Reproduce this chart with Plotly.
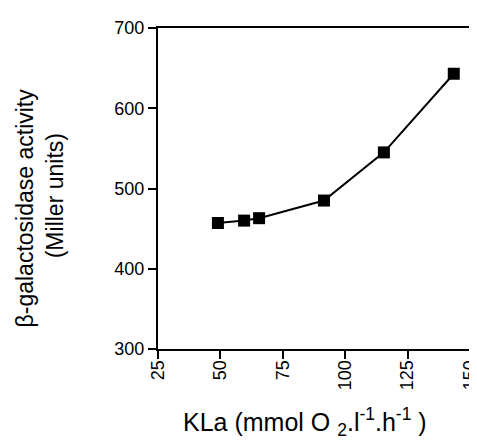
import plotly.graph_objects as go

kla = [49, 59.5, 65.5, 91.5, 115.5, 143.5]
activity = [457, 460, 463, 485, 545, 643]
x_ticks = [25, 50, 75, 100, 125, 150]
y_ticks = [300, 400, 500, 600, 700]

FONT = "Liberation Sans, Arial, Helvetica, sans-serif"

fig = go.Figure()
fig.add_trace(go.Scatter(
    x=kla, y=activity, mode="lines+markers",
    line=dict(color="black", width=2),
    marker=dict(symbol="square", size=12, color="black"),
    showlegend=False, cliponaxis=False,
))

axis_common = dict(
    showgrid=False, zeroline=False, showline=True, linecolor="black", linewidth=2,
    mirror=True, ticks="outside", ticklen=8, tickwidth=2, tickcolor="black",
    tickfont=dict(family=FONT, size=18, color="black"),
)
fig.update_xaxes(range=[25, 150], tickvals=x_ticks, ticktext=[str(v) for v in x_ticks],
                 tickangle=-90, ticklabeloverflow="allow", ticklabelstandoff=-6, **axis_common)
fig.update_yaxes(range=[300, 700], tickvals=y_ticks, ticktext=[str(v) for v in y_ticks],
                 **axis_common)

fig.add_annotation(text="β-galactosidase activity", textangle=-90, xref="paper", yref="paper",
                   x=-0.425, y=0.439, xanchor="center", yanchor="middle", showarrow=False,
                   font=dict(family=FONT, size=23, color="black"))
fig.add_annotation(text="(Miller units)", textangle=-90, xref="paper", yref="paper",
                   x=-0.332, y=0.477, xanchor="center", yanchor="middle", showarrow=False,
                   font=dict(family=FONT, size=23, color="black"))
fig.add_annotation(text="KLa (mmol O <sub>2</sub>.l<sup>-1</sup>.h<sup>-1</sup> )",
                   xref="paper", yref="paper", x=0.472, y=-0.227,
                   xanchor="center", yanchor="middle", showarrow=False,
                   font=dict(family=FONT, size=25, color="black"))

fig.update_layout(
    width=477, height=442,
    margin=dict(l=150, r=5, t=20, b=101),
    paper_bgcolor="white", plot_bgcolor="white",
)
fig.write_html("out.html")
